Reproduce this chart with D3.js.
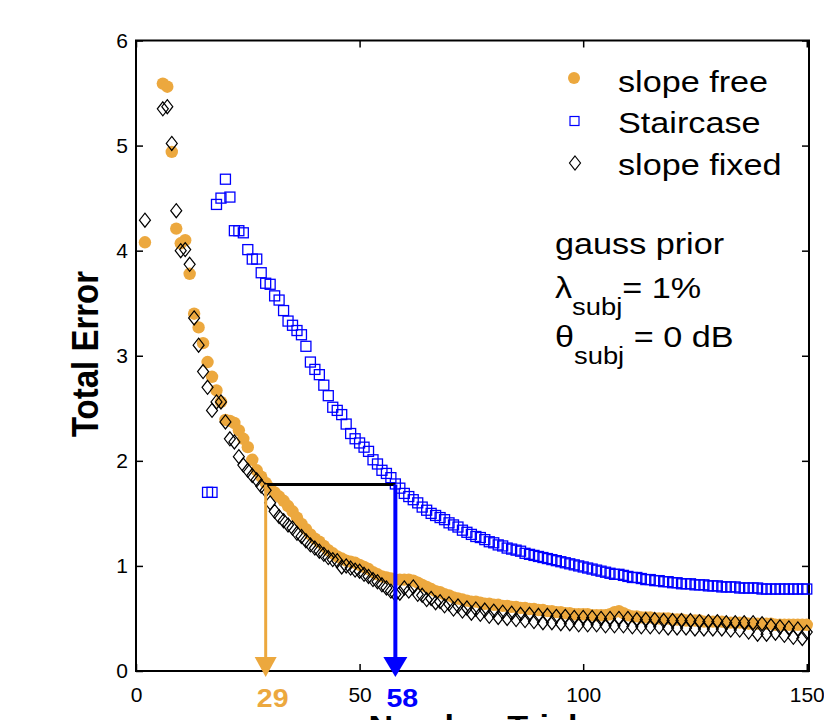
<!DOCTYPE html>
<html>
<head>
<meta charset="utf-8">
<script src="https://cdn.jsdelivr.net/npm/d3@7"></script>
<style>
body { margin: 0; background: #fff; }
text { font-family: Arial, "Liberation Sans", Helvetica, sans-serif; }
</style>
</head>
<body>
<script>
// trial number 1..150, null = not shown
var trials = d3.range(1, 151);

var slopeFree = [
  null, 4.08, null, null, null, 5.59, 5.56, 4.94, 4.21, 4.07,
  4.10, 3.78, 3.40, 3.27, 3.12, 2.94, 2.80, 2.67, 2.56, 2.39,
  2.38, 2.36, 2.29, 2.21, 2.13, 2.01, 1.91, 1.85, 1.79, 1.74,
  1.70, 1.66, 1.62, 1.57, 1.52, 1.46, 1.40, 1.35, 1.30, 1.26,
  1.23, 1.19, 1.15, 1.12, 1.09, 1.07, 1.05, 1.04, 1.03, 1.01,
  0.99, 0.97, 0.94, 0.92, 0.90, 0.89, 0.88, 0.87, 0.87, 0.87,
  0.87, 0.86, 0.84, 0.82, 0.80, 0.78, 0.76, 0.75, 0.73, 0.72,
  0.70, 0.69, 0.68, 0.67, 0.66, 0.66, 0.65, 0.64, 0.64, 0.63,
  0.63, 0.62, 0.62, 0.61, 0.61, 0.60, 0.60, 0.59, 0.59, 0.58,
  0.58, 0.57, 0.57, 0.56, 0.56, 0.55, 0.55, 0.54, 0.54, 0.54,
  0.54, 0.53, 0.53, 0.53, 0.53, 0.54, 0.56, 0.57, 0.55, 0.53,
  0.52, 0.52, 0.51, 0.51, 0.51, 0.50, 0.50, 0.50, 0.50, 0.49,
  0.49, 0.49, 0.48, 0.48, 0.48, 0.48, 0.47, 0.47, 0.47, 0.47,
  0.47, 0.46, 0.46, 0.46, 0.46, 0.46, 0.45, 0.45, 0.45, 0.45,
  0.45, 0.45, 0.44, 0.44, 0.44, 0.44, 0.44, 0.44, 0.44, 0.44
];

var staircase = [
  null, null, null, null, null, null, null, null, null, null,
  null, null, null, null, null, 1.70, 1.70, 4.44, 4.50, 4.68,
  4.51, 4.19, 4.19, 4.17, 4.01, 3.92, 3.92, 3.79, 3.69, 3.68,
  3.57, 3.53, 3.43, 3.33, 3.29, 3.24, 3.20, 3.09, 2.94, 2.87,
  2.82, 2.72, 2.62, 2.51, 2.48, 2.44, 2.35, 2.26, 2.21, 2.17,
  2.13, 2.09, 2.01, 1.97, 1.91, 1.88, 1.84, 1.78, 1.74, 1.69,
  1.66, 1.63, 1.60, 1.56, 1.53, 1.50, 1.48, 1.46, 1.44, 1.41,
  1.39, 1.37, 1.34, 1.32, 1.30, 1.28, 1.27, 1.25, 1.23, 1.22,
  1.20, 1.19, 1.17, 1.16, 1.15, 1.14, 1.12, 1.11, 1.10, 1.09,
  1.08, 1.07, 1.06, 1.05, 1.04, 1.03, 1.02, 1.01, 1.00, 0.99,
  0.98, 0.97, 0.96, 0.95, 0.94, 0.93, 0.92, 0.92, 0.91, 0.90,
  0.89, 0.89, 0.88, 0.87, 0.87, 0.86, 0.86, 0.85, 0.85, 0.84,
  0.84, 0.83, 0.83, 0.83, 0.82, 0.82, 0.82, 0.81, 0.81, 0.81,
  0.80, 0.80, 0.80, 0.80, 0.79, 0.79, 0.79, 0.79, 0.79, 0.78,
  0.78, 0.78, 0.78, 0.78, 0.78, 0.78, 0.78, 0.78, 0.78, 0.78
];

var slopeFixed = [
  null, 4.29, null, null, null, 5.35, 5.37, 5.02, 4.38, 4.00,
  4.01, 3.87, 3.36, 3.10, 2.85, 2.70, 2.48, 2.56, 2.56, 2.37,
  2.21, 2.18, 2.04, 1.96, 1.91, 1.86, 1.82, 1.76, 1.72, 1.60,
  1.52, 1.47, 1.43, 1.39, 1.36, 1.31, 1.28, 1.24, 1.20, 1.17,
  1.14, 1.11, 1.08, 1.06, 1.05, 0.99, 1.00, 0.98, 0.96, 0.95,
  0.92, 0.90, 0.87, 0.85, 0.82, 0.79, 0.76, 0.73, 0.74, 0.79,
  0.76, 0.80, 0.73, 0.72, 0.68, 0.69, 0.65, 0.66, 0.62, 0.64,
  0.59, 0.62, 0.57, 0.60, 0.55, 0.59, 0.54, 0.58, 0.52, 0.57,
  0.51, 0.56, 0.50, 0.55, 0.49, 0.54, 0.48, 0.54, 0.47, 0.53,
  0.46, 0.53, 0.46, 0.52, 0.45, 0.52, 0.45, 0.51, 0.44, 0.51,
  0.44, 0.51, 0.44, 0.50, 0.43, 0.50, 0.43, 0.50, 0.43, 0.50,
  0.42, 0.49, 0.42, 0.49, 0.42, 0.49, 0.42, 0.48, 0.41, 0.48,
  0.41, 0.48, 0.41, 0.48, 0.40, 0.47, 0.40, 0.47, 0.40, 0.47,
  0.40, 0.46, 0.39, 0.46, 0.39, 0.46, 0.37, 0.46, 0.35, 0.45,
  0.35, 0.43, 0.36, 0.42, 0.34, 0.41, 0.32, 0.40, 0.31, 0.37
];

var xTicks = [0, 50, 100, 150];
var yTicks = [0, 1, 2, 3, 4, 5, 6];

// the criterion line and where each method reaches it
var criterion = 1.775;
var trialFree = 29;
var trialStair = 58;

var orange = "#eca83e";
var blue = "#0000ff";
var stretch = 1.14; // the original text is a bit wide

var svg = d3.select("body").append("svg")
    .attr("width", 824)
    .attr("height", 720);

var x = d3.scaleLinear().domain([0, 150.5]).range([136, 809]);
var y = d3.scaleLinear().domain([0, 6]).range([671, 40.5]);

function pts(vals) {
    return trials.map((t, i) => ({t: t, v: vals[i]})).filter(d => d.v != null);
}

// axes, ticks pointing inside the box
svg.append("g").attr("transform", "translate(136,0)")
    .call(d3.axisLeft(y).tickValues(yTicks).tickSize(-7).tickPadding(8).tickFormat(d3.format("d")));
svg.append("g").attr("transform", "translate(0,671)")
    .call(d3.axisBottom(x).tickValues(xTicks).tickSize(-7).tickPadding(16).tickFormat(d3.format("d")));
svg.append("g").attr("transform", "translate(809,0)")
    .call(d3.axisRight(y).tickValues(yTicks).tickSize(-7).tickFormat(""));
svg.append("g").attr("transform", "translate(0,40.5)")
    .call(d3.axisTop(x).tickValues(xTicks).tickSize(-7).tickFormat(""));

svg.selectAll(".domain").remove();
svg.selectAll(".tick line").attr("stroke", "#000").attr("stroke-width", 1.5);
svg.selectAll(".tick text").attr("fill", "#000").style("font-size", "21px")
    .style("font-family", "Arial, 'Liberation Sans', sans-serif");

svg.append("rect")
    .attr("x", 136).attr("y", 40.5)
    .attr("width", 809 - 136).attr("height", 671 - 40.5)
    .attr("fill", "none").attr("stroke", "#000").attr("stroke-width", 2);

// data marks
var plot = svg.append("g");

plot.selectAll(".free").data(pts(slopeFree)).enter()
    .append("circle").attr("class", "free")
    .attr("cx", d => x(d.t)).attr("cy", d => y(d.v))
    .attr("r", 6.2).attr("fill", orange);

plot.selectAll(".stair").data(pts(staircase)).enter()
    .append("rect").attr("class", "stair")
    .attr("x", d => x(d.t) - 5).attr("y", d => y(d.v) - 5)
    .attr("width", 10).attr("height", 10)
    .attr("fill", "none").attr("stroke", blue).attr("stroke-width", 1.3);

var diamond = "M0,-7L5.5,0L0,7L-5.5,0Z";
plot.selectAll(".fixed").data(pts(slopeFixed)).enter()
    .append("path").attr("class", "fixed")
    .attr("d", diamond)
    .attr("transform", d => `translate(${x(d.t)},${y(d.v)})`)
    .attr("fill", "none").attr("stroke", "#000").attr("stroke-width", 1.2);

// criterion line and arrows
svg.append("line")
    .attr("x1", x(trialFree)).attr("x2", x(trialStair))
    .attr("y1", y(criterion)).attr("y2", y(criterion))
    .attr("stroke", "#000").attr("stroke-width", 3);

function arrow(t, col, w, hw) {
    var cx = x(t), tip = y(0) + 6, base = tip - 20;
    svg.append("line")
        .attr("x1", cx).attr("x2", cx)
        .attr("y1", y(criterion)).attr("y2", base + 2)
        .attr("stroke", col).attr("stroke-width", w);
    svg.append("path")
        .attr("d", `M${cx - hw},${base}L${cx + hw},${base}L${cx},${tip}Z`)
        .attr("fill", col);
}
arrow(trialFree, orange, 3, 11);
arrow(trialStair, blue, 4, 12);

// text helper, stretched horizontally like the source
function label(px, py, size, weight) {
    return svg.append("text")
        .attr("transform", `translate(${px},${py}) scale(${stretch},1)`)
        .style("font-size", size + "px")
        .style("font-weight", weight || "normal");
}

label(x(trialFree) + 7, 707, 25, "bold").attr("text-anchor", "middle").attr("fill", orange).text(trialFree);
label(x(trialStair) + 7, 707, 25, "bold").attr("text-anchor", "middle").attr("fill", blue).text(trialStair);

// axis titles
svg.append("text")
    .attr("transform", `translate(98,354) scale(${stretch},1) rotate(-90)`)
    .attr("text-anchor", "middle")
    .style("font-size", "33px").style("font-weight", "bold")
    .text("Total Error");
label(473, 736, 30, "bold").attr("text-anchor", "middle").text("Number Trial");

// legend
var legendNames = ["slope free", "Staircase", "slope fixed"];
var legY = [78, 121, 163];
var legBase = [91.7, 132.7, 175];
svg.append("circle").attr("cx", 574).attr("cy", legY[0]).attr("r", 6).attr("fill", orange);
svg.append("rect").attr("x", 570).attr("y", legY[1] - 4.5).attr("width", 9).attr("height", 9)
    .attr("fill", "none").attr("stroke", blue).attr("stroke-width", 1.2);
svg.append("path").attr("d", diamond).attr("transform", `translate(575,${legY[2]})`)
    .attr("fill", "none").attr("stroke", "#000").attr("stroke-width", 1.2);
legendNames.forEach((n, i) => label(618, legBase[i], 30).text(n));

// prior info
label(555, 254, 30).text("gauss prior");
var l2 = label(555, 298, 30);
l2.append("tspan").text("λ");
l2.append("tspan").attr("dy", 17).style("font-size", "24px").text("subj");
l2.append("tspan").attr("dy", -17).text("= 1%");
var l3 = label(555, 347, 30);
l3.append("tspan").text("θ");
l3.append("tspan").attr("dy", 17).style("font-size", "24px").text("subj");
l3.append("tspan").attr("dy", -17).text(" = 0 dB");
</script>
</body>
</html>
